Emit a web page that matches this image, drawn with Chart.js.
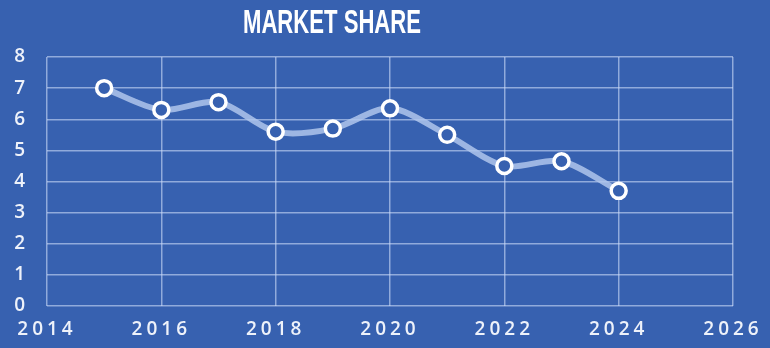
<!DOCTYPE html>
<html>
<head>
<meta charset="utf-8">
<script src="https://cdn.jsdelivr.net/npm/chart.js@4/dist/chart.umd.min.js"></script>
<style>
  html, body { margin: 0; padding: 0; background: #3761b0; }
  #wrap { width: 770px; height: 348px; position: relative; }
</style>
</head>
<body>
<div id="wrap"><canvas id="c" width="770" height="348"></canvas></div>
<script>
const title = "MARKET SHARE";
const years = [2015, 2016, 2017, 2018, 2019, 2020, 2021, 2022, 2023, 2024];
const share = [7.0, 6.3, 6.55, 5.6, 5.7, 6.35, 5.5, 4.5, 4.65, 3.7];
const xTicks = [2014, 2016, 2018, 2020, 2022, 2024, 2026];
const yTicks = [0, 1, 2, 3, 4, 5, 6, 7, 8];

const BG = '#3761b0';

const bgPlugin = {
  id: 'bg',
  beforeDraw(chart) {
    const ctx = chart.ctx;
    ctx.save();
    ctx.fillStyle = BG;
    ctx.fillRect(0, 0, chart.width, chart.height);
    ctx.restore();
    ctx.letterSpacing = '4px';
  },
  beforeDatasetsDraw(chart) {
    chart.ctx.letterSpacing = '0px';
  }
};

const titlePlugin = {
  id: 'customTitle',
  afterDraw(chart) {
    const ctx = chart.ctx;
    ctx.save();
    ctx.letterSpacing = '0px';
    ctx.font = 'bold 33px "Liberation Sans", Arial, sans-serif';
    ctx.fillStyle = '#ffffff';
    ctx.textBaseline = 'alphabetic';
    ctx.textAlign = 'left';
    const w = ctx.measureText(title).width;
    const target = 178;
    ctx.translate(243, 33);
    ctx.scale(target / w, 1);
    ctx.fillText(title, 0, 0);
    ctx.restore();
  }
};

const data = {
  datasets: [{
    label: title,
    data: years.map((y, i) => ({ x: y, y: share[i] })),
    borderColor: 'rgba(175, 198, 236, 0.85)',
    borderWidth: 6,
    tension: 0.3,
    pointRadius: 7.5,
    pointHoverRadius: 7.5,
    pointBorderWidth: 3.5,
    pointBorderColor: '#ffffff',
    pointBackgroundColor: BG
  }]
};

new Chart(document.getElementById('c'), {
  type: 'line',
  data,
  options: {
    responsive: false,
    animation: false,
    devicePixelRatio: 1,
    layout: { padding: { top: 57, right: 37, left: 0, bottom: 0 } },
    plugins: { legend: { display: false }, title: { display: false }, tooltip: { enabled: false } },
    scales: {
      x: {
        type: 'linear',
        min: 2014, max: 2026,
        afterBuildTicks(scale) { scale.ticks = xTicks.map(v => ({ value: v })); },
        afterFit(scale) { scale.height = 42; },
        border: { display: false },
        grid: { color: 'rgba(205, 220, 248, 0.6)', lineWidth: 1.5, drawTicks: false },
        ticks: {
          color: '#eef2fa',
          font: { family: '"Open Sans", sans-serif', size: 19, weight: '600' },
          padding: 12,
          maxRotation: 0,
          callback: v => String(v)
        }
      },
      y: {
        min: 0, max: 8,
        afterBuildTicks(scale) { scale.ticks = yTicks.map(v => ({ value: v })); },
        afterFit(scale) { scale.width = 47; },
        border: { display: false },
        grid: { color: 'rgba(205, 220, 248, 0.6)', lineWidth: 1.5, drawTicks: false },
        ticks: {
          color: '#eef2fa',
          font: { family: '"Open Sans", sans-serif', size: 19, weight: '600' },
          padding: 18
        }
      }
    }
  },
  plugins: [bgPlugin, titlePlugin]
});
</script>
</body>
</html>
